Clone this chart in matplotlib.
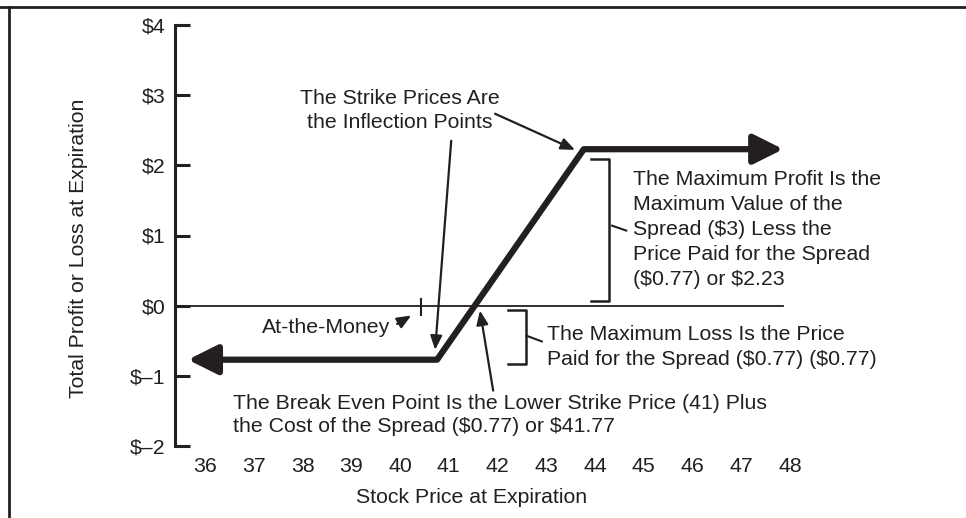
import matplotlib.pyplot as plt
from matplotlib.lines import Line2D

# payoff of the bull spread
price = [35.65, 40.76, 43.77, 47.86]
profit = [-0.77, -0.77, 2.23, 2.23]

xticks = [36, 37, 38, 39, 40, 41, 42, 43, 44, 45, 46, 47, 48]
yticks = [4, 3, 2, 1, 0, -1, -2]
ylabels = ['$4', '$3', '$2', '$1', '$0', '$\u20131', '$\u20132']

atm = 40.43

ink = '#231f20'
fs = 15.3
plt.rcParams['font.family'] = ['Liberation Sans', 'DejaVu Sans']
plt.rcParams['font.size'] = fs
plt.rcParams['text.color'] = ink
plt.rcParams['text.parse_math'] = False

fig = plt.figure(figsize=(9.66, 5.18), dpi=100)
ax = fig.add_axes([175/966, 72/518, 775/966, 421/518])
ax.set_xlim(35.385, 51.28)
ax.set_ylim(-2, 4)

for s in ['top', 'right', 'bottom']:
    ax.spines[s].set_visible(False)
ax.spines['left'].set_linewidth(2.2)
ax.spines['left'].set_color(ink)

ax.set_xticks(xticks)
ax.set_xticklabels([str(v) for v in xticks])
ax.set_yticks(yticks)
ax.set_yticklabels(ylabels)
ax.tick_params(axis='x', length=0, pad=8, colors=ink, labelsize=fs)
ax.tick_params(axis='y', direction='in', length=11, width=2.2, pad=7, colors=ink, labelsize=fs)

ax.set_xlabel('Stock Price at Expiration', fontsize=fs, color=ink)
ax.xaxis.set_label_coords((472-175)/775, -(488-446)/421)
ax.set_ylabel('Total Profit or Loss at Expiration', fontsize=fs, color=ink)
ax.yaxis.set_label_coords(-(175-88)/775, (446-248)/421)

# zero line
ax.plot([35.385, price[-1]], [0, 0], color=ink, lw=1.3)
# at-the-money tick
ax.plot([atm, atm], [0.1, -0.13], color=ink, lw=1.5)

# payoff line: middle part plus arrows at both ends
ax.plot(price[1:3], profit[1:3], color=ink, lw=4.5, solid_capstyle='butt', solid_joinstyle='miter')
heavy = dict(arrowstyle='-|>,head_length=0.9,head_width=0.45', color=ink, lw=4.5,
             mutation_scale=20, shrinkA=0, shrinkB=0)
ax.annotate('', xy=(price[0], profit[0]), xytext=(price[1], profit[1]), arrowprops=heavy)
ax.annotate('', xy=(price[3], profit[3]), xytext=(price[2], profit[2]), arrowprops=heavy)

thin = dict(arrowstyle='-|>,head_length=0.6,head_width=0.25', color=ink, lw=1.6,
            mutation_scale=14, shrinkA=0, shrinkB=0)

ax.text(40.0, 2.78, 'The Strike Prices Are\nthe Inflection Points', ha='center', va='center',
        multialignment='center', linespacing=1.3)
ax.annotate('', xy=(40.72, -0.63), xytext=(41.05, 2.35), arrowprops=thin)
ax.annotate('', xy=(43.59, 2.22), xytext=(41.95, 2.735), arrowprops=thin)

# max profit bracket
ax.plot([43.92, 44.29, 44.29, 43.92], [2.09, 2.09, 0.06, 0.06], color=ink, lw=1.8)
ax.plot([44.35, 44.64], [1.14, 1.07], color=ink, lw=1.5)
ax.text(44.78, 1.08, 'The Maximum Profit Is the\nMaximum Value of the\nSpread ($3) Less the\n'
        'Price Paid for the Spread\n($0.77) or $2.23', ha='left', va='center', linespacing=1.4)

# max loss bracket
ax.plot([42.215, 42.585, 42.585, 42.215], [-0.057, -0.057, -0.826, -0.826], color=ink, lw=1.8)
ax.plot([42.6, 42.91], [-0.43, -0.51], color=ink, lw=1.5)
ax.text(43.015, -0.584, 'The Maximum Loss Is the Price\nPaid for the Spread ($0.77) ($0.77)',
        ha='left', va='center', linespacing=1.4)

# break even
ax.text(36.57, -1.56, 'The Break Even Point Is the Lower Strike Price (41) Plus\n'
        'the Cost of the Spread ($0.77) or $41.77', ha='left', va='center', linespacing=1.3)
ax.annotate('', xy=(41.64, -0.07), xytext=(41.91, -1.21), arrowprops=thin)

# at the money
ax.text(39.8, -0.31, 'At-the-Money', ha='right', va='center')
ax.annotate('', xy=(40.23, -0.14), xytext=(39.94, -0.26), arrowprops=thin)

# frame lines (top and left only)
fig.add_artist(Line2D([0, 1], [1 - 7/518, 1 - 7/518], color=ink, lw=2))
fig.add_artist(Line2D([9/966, 9/966], [0, 1 - 7/518], color=ink, lw=2))

fig.savefig('out.png', dpi=100)
